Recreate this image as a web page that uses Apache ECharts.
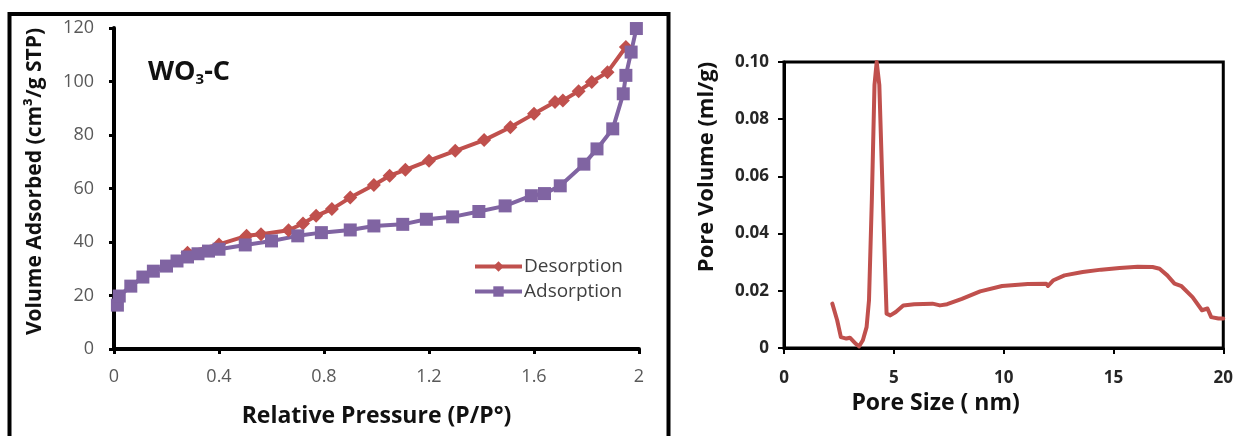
<!DOCTYPE html>
<html>
<head>
<meta charset="utf-8">
<script src="https://cdn.jsdelivr.net/npm/echarts@6/dist/echarts.min.js"></script>
<style>
  html, body { margin: 0; padding: 0; background: #fff; }
  #main { width: 1236px; height: 436px; }
</style>
</head>
<body>
<div id="main"></div>
<script>
// isotherm, left panel
var adsX = [0.013, 0.02, 0.064, 0.11, 0.15, 0.20, 0.24, 0.28, 0.32, 0.36, 0.40, 0.50, 0.60, 0.70, 0.79, 0.90, 0.99, 1.10, 1.19, 1.29, 1.39, 1.49, 1.59, 1.64, 1.70, 1.79, 1.84, 1.90, 1.94, 1.95, 1.97, 1.99];
var adsY = [16.4, 19.8, 23.5, 26.9, 29.1, 31.0, 32.9, 34.4, 35.6, 36.6, 37.3, 38.9, 40.4, 42.3, 43.5, 44.5, 46.0, 46.6, 48.5, 49.4, 51.4, 53.5, 57.3, 58.1, 61.0, 69.1, 74.8, 82.3, 95.4, 102.3, 111.0, 119.8];
var desX = [1.95, 1.88, 1.82, 1.77, 1.71, 1.68, 1.60, 1.51, 1.41, 1.30, 1.20, 1.11, 1.05, 0.99, 0.90, 0.83, 0.77, 0.72, 0.665, 0.56, 0.505, 0.40, 0.28];
var desY = [112.9, 103.5, 99.8, 96.4, 92.9, 92.3, 87.9, 82.9, 78.1, 74.1, 70.4, 67.0, 64.8, 61.3, 56.6, 52.3, 49.8, 46.9, 44.4, 42.9, 42.3, 39.1, 36.0];

// pore size distribution, right panel
var poreX = [2.2, 2.42, 2.59, 2.84, 3.0, 3.26, 3.42, 3.59, 3.76, 3.87, 4.0, 4.12, 4.22, 4.34, 4.5, 4.67, 4.84, 5.09, 5.43, 5.93, 6.76, 7.1, 7.43, 8.1, 8.93, 9.93, 11.1, 11.94, 12.02, 12.27, 12.77, 13.6, 14.44, 15.28, 16.1, 16.78, 17.1, 17.45, 17.78, 18.1, 18.6, 19.03, 19.28, 19.45, 19.78, 20.0];
var poreY = [0.0155, 0.0097, 0.0038, 0.0033, 0.0036, 0.0015, 0.0006, 0.0027, 0.0073, 0.0167, 0.052, 0.092, 0.100, 0.092, 0.052, 0.012, 0.0114, 0.0126, 0.0149, 0.0153, 0.0155, 0.0149, 0.0153, 0.0172, 0.0198, 0.0217, 0.0224, 0.0225, 0.0217, 0.0237, 0.0254, 0.0266, 0.0274, 0.028, 0.0284, 0.0283, 0.0277, 0.0254, 0.0225, 0.0216, 0.0178, 0.0132, 0.0138, 0.0108, 0.0103, 0.0103];

function pairs(xs, ys) {
  return xs.map(function (x, i) { return [x, ys[i]]; });
}

var RED = '#c0504d';
var PURPLE = '#8064a2';
var FONT = 'Open Sans';

var chart = echarts.init(document.getElementById('main'));

var option = {
  animation: false,
  textStyle: { fontFamily: FONT },
  graphic: [
    {
      type: 'rect',
      shape: { x: 9.5, y: 14, width: 659, height: 450 },
      style: { fill: 'none', stroke: '#000', lineWidth: 4 },
      silent: true
    },
    {
      type: 'text',
      x: 148,
      y: 72,
      style: {
        text: '{a|WO}{b|3}{a|-C}',
        verticalAlign: 'middle',
        rich: {
          a: { fontFamily: FONT, fontSize: 27, fontWeight: 'bold', fill: '#111', lineHeight: 30, verticalAlign: 'middle' },
          b: { fontFamily: FONT, fontSize: 15, fontWeight: 'bold', fill: '#111', lineHeight: 15, verticalAlign: 'bottom' }
        }
      }
    }
  ],
  legend: {
    orient: 'vertical',
    left: 468,
    top: 252,
    itemWidth: 47,
    itemHeight: 13,
    itemGap: 6,
    data: ['Desorption', 'Adsorption'],
    lineStyle: { width: 4 },
    textStyle: { fontFamily: FONT, fontSize: 19, color: '#404040', padding: [0, 0, 0, -3] }
  },
  grid: [
    { left: 114, top: 28, width: 525, height: 321 },
    { left: 784, top: 62, width: 440, height: 286, show: true, borderColor: '#000', borderWidth: 3, backgroundColor: 'transparent' }
  ],
  xAxis: [
    {
      gridIndex: 0, type: 'value', min: 0, max: 2, interval: 0.4,
      name: 'Relative Pressure (P/P\u00b0)', nameLocation: 'middle', nameGap: 56,
      nameTextStyle: { fontFamily: FONT, fontSize: 23, fontWeight: 'bold', color: '#111' },
      axisLine: { lineStyle: { color: '#000', width: 4 } },
      axisTick: { length: 5, lineStyle: { color: '#000', width: 3 } },
      axisLabel: { margin: 19, fontSize: 18, color: '#595959' },
      splitLine: { show: false }
    },
    {
      gridIndex: 1, type: 'value', min: 0, max: 20, interval: 5,
      name: 'Pore Size ( nm)', nameLocation: 'middle', nameGap: 39,
      nameTextStyle: { fontFamily: FONT, fontSize: 23, fontWeight: 'bold', color: '#111', padding: [0, 136, 0, 0] },
      axisLine: { lineStyle: { color: '#000', width: 3 } },
      axisTick: { length: 6, lineStyle: { color: '#000', width: 2 } },
      axisLabel: { margin: 22, fontSize: 17, fontWeight: 'bold', color: '#262626' },
      splitLine: { show: false }
    }
  ],
  yAxis: [
    {
      gridIndex: 0, type: 'value', min: 0, max: 120, interval: 20,
      name: 'Volume Adsorbed (cm\u00b3/g STP)', nameLocation: 'middle', nameGap: 68,
      nameTextStyle: { fontFamily: FONT, fontSize: 21, fontWeight: 'bold', color: '#111', padding: [0, 0, 0, 14] },
      axisLine: { show: true, lineStyle: { color: '#000', width: 4 } },
      axisTick: { show: true, length: 5, lineStyle: { color: '#000', width: 3 } },
      axisLabel: { margin: 20, fontSize: 18, color: '#595959' },
      splitLine: { show: false }
    },
    {
      gridIndex: 1, type: 'value', min: 0, max: 0.1, interval: 0.02,
      name: 'Pore Volume (ml/g)', nameLocation: 'middle', nameGap: 66,
      nameTextStyle: { fontFamily: FONT, fontSize: 22, fontWeight: 'bold', color: '#111', padding: [0, 0, 0, 76] },
      axisLine: { show: true, lineStyle: { color: '#000', width: 3 } },
      axisTick: { show: true, length: 6, lineStyle: { color: '#000', width: 2 } },
      axisLabel: {
        margin: 15, fontSize: 17, fontWeight: 'bold', color: '#262626',
        formatter: function (v) { return v === 0 ? '0' : v.toFixed(2); }
      },
      splitLine: { show: false }
    }
  ],
  series: [
    {
      name: 'Desorption', type: 'line', xAxisIndex: 0, yAxisIndex: 0,
      data: pairs(desX, desY),
      symbol: 'diamond', symbolSize: 14,
      itemStyle: { color: RED },
      lineStyle: { color: RED, width: 4 }
    },
    {
      name: 'Adsorption', type: 'line', xAxisIndex: 0, yAxisIndex: 0,
      data: pairs(adsX, adsY),
      symbol: 'rect', symbolSize: 13,
      itemStyle: { color: PURPLE },
      lineStyle: { color: PURPLE, width: 4 }
    },
    {
      name: 'Pore', type: 'line', xAxisIndex: 1, yAxisIndex: 1,
      data: pairs(poreX, poreY),
      showSymbol: false, symbol: 'none',
      lineStyle: { color: RED, width: 4, join: 'round', cap: 'round' }
    }
  ]
};

chart.setOption(option);
</script>
</body>
</html>
